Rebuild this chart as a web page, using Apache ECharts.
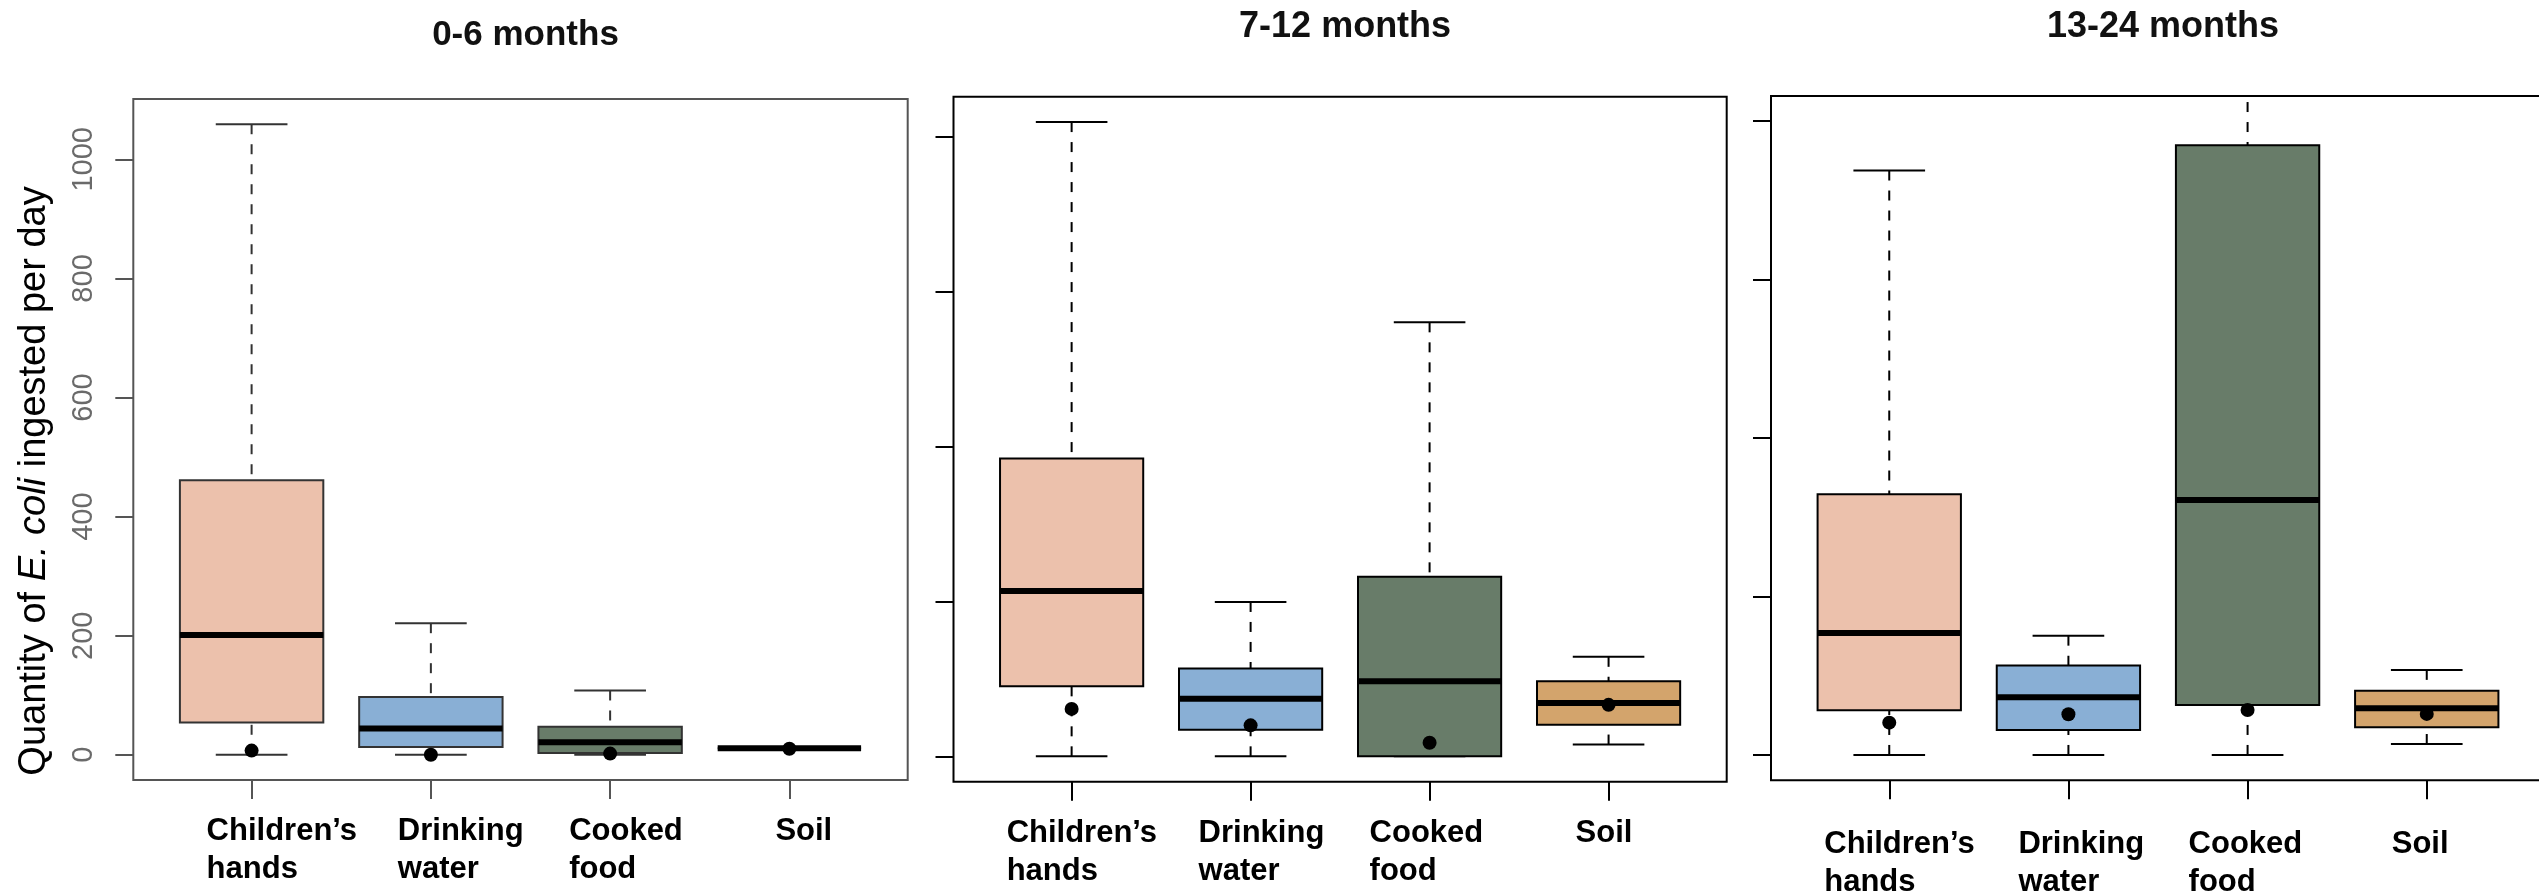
<!DOCTYPE html>
<html>
<head>
<meta charset="utf-8">
<script src="https://cdn.jsdelivr.net/npm/echarts@6/dist/echarts.min.js"></script>
<style>
  html, body { margin: 0; padding: 0; background: #ffffff; }
  .panel { position: absolute; left: 0; top: 0; width: 2539px; height: 895px; }
  #p1 { filter: blur(0.6px); }
</style>
</head>
<body>
<div id="p1" class="panel"></div>
<div id="p2" class="panel"></div>
<div id="p3" class="panel"></div>
<script>
// Exposure sources shown on the x axis
const categories = ['Children’s\nhands', 'Drinking\nwater', 'Cooked\nfood', 'Soil'];
const boxColors = ['#ECC1AC', '#89AFD5', '#687C69', '#D3A46C'];
const panelTitles = ['0-6 months', '7-12 months', '13-24 months'];

// Box statistics per source: [lower whisker, Q1, median, Q3, upper whisker]
const stats0to6 = [[0, 54, 201, 461, 1059], [0, 13, 44, 97, 221], [0, 3, 21, 47, 108], [11, 11, 11, 11, 11]];
const means0to6 = [7, 0, 2, 10];
const stats7to12 = [[0, 226, 533, 961, 2046], [0, 86, 186, 283, 498], [0, 0, 242, 579, 1400], [38, 102, 172, 242, 321]];
const means7to12 = [153, 100, 44, 166];
const stats13to24 = [[0, 282, 770, 1646, 3689], [0, 158, 364, 564, 753], [0, 316, 1610, 3848, 4500], [69, 175, 295, 406, 537]];
const means13to24 = [204, 257, 284, 259];

// Y tick values; the 13-24 month panel uses a fixed y range
const ticks0to6 = [0, 200, 400, 600, 800, 1000];
const ticks7to12 = [0, 500, 1000, 1500, 2000];
const ticks13to24 = [0, 1000, 2000, 3000, 4000];
const ylim13to24 = [0, 4000];

const FONT = "'Liberation Sans', Arial, Helvetica, sans-serif";

// R-style axis range: data (or given) limits widened by 4% on each side
function rRange(lo, hi) {
  const d = (hi - lo) * 0.04;
  return [lo - d, hi + d];
}

function renderBox(lineColor) {
  return function (params, api) {
    const x = api.value(0);
    const lo = api.value(1), q1 = api.value(2), med = api.value(3);
    const q3 = api.value(4), hi = api.value(5), mean = api.value(6);
    const c = api.coord([x, med]);
    const half = api.coord([x + 0.4, med])[0] - c[0];
    const capHalf = half / 2;
    const yLo = api.coord([x, lo])[1];
    const yQ1 = api.coord([x, q1])[1];
    const yQ3 = api.coord([x, q3])[1];
    const yHi = api.coord([x, hi])[1];
    const yMean = api.coord([x, mean])[1];
    const cx = c[0];
    const dash = { stroke: lineColor, lineWidth: 2, lineDash: [10, 10], fill: null };
    const solid = { stroke: lineColor, lineWidth: 2, fill: null };
    return {
      type: 'group',
      children: [
        { type: 'line', shape: { x1: cx, y1: yHi, x2: cx, y2: yQ3 }, style: dash },
        { type: 'line', shape: { x1: cx, y1: yLo, x2: cx, y2: yQ1 }, style: dash },
        { type: 'line', shape: { x1: cx - capHalf, y1: yHi, x2: cx + capHalf, y2: yHi }, style: solid },
        { type: 'line', shape: { x1: cx - capHalf, y1: yLo, x2: cx + capHalf, y2: yLo }, style: solid },
        { type: 'rect', shape: { x: cx - half, y: yQ3, width: 2 * half, height: yQ1 - yQ3 },
          style: { fill: boxColors[params.dataIndex], stroke: lineColor, lineWidth: 2 } },
        { type: 'line', shape: { x1: cx - half, y1: c[1], x2: cx + half, y2: c[1] },
          style: { stroke: '#000', lineWidth: 6, fill: null } },
        { type: 'circle', shape: { cx: cx, cy: yMean, r: 7 }, style: { fill: '#000' } }
      ]
    };
  };
}

function buildPanel(el, cfg) {
  const rows = cfg.stats.map((s, i) => [i + 1].concat(s, [cfg.means[i]]));
  const lo = cfg.ylim ? cfg.ylim[0] : Math.min(...cfg.stats.map(s => s[0]));
  const hi = cfg.ylim ? cfg.ylim[1] : Math.max(...cfg.stats.map(s => s[4]));
  const yr = rRange(lo, hi);
  const xr = rRange(0.5, categories.length + 0.5);
  const positions = categories.map((c, i) => i + 1);
  const rich = {};
  categories.forEach((c, i) => {
    rich['c' + i] = {
      fontFamily: FONT, fontSize: 31, fontWeight: 'bold', color: '#000',
      lineHeight: 38, padding: [0, 0, 0, cfg.labelShift[i]]
    };
  });
  const hiddenLine = { show: true, onZero: false, lineStyle: { color: 'rgba(0,0,0,0)', width: 1 } };
  const chart = echarts.init(el, null, { renderer: 'canvas' });
  const opt = {
    animation: false,
    backgroundColor: 'transparent',
    title: {
      text: cfg.title,
      left: cfg.left + cfg.width / 2,
      textAlign: 'center',
      top: cfg.titleTop,
      textStyle: { fontFamily: FONT, fontSize: cfg.titleSize, fontWeight: 'bold', color: '#111' }
    },
    grid: {
      left: cfg.left, top: cfg.top, width: cfg.width, height: cfg.height,
      show: true, borderColor: cfg.frameColor, borderWidth: 2, backgroundColor: 'transparent',
      containLabel: false, outerBoundsMode: 'none'
    },
    xAxis: {
      type: 'value', position: 'bottom', min: xr[0], max: xr[1],
      axisLine: hiddenLine, splitLine: { show: false },
      axisTick: { show: true, inside: false, length: 19, customValues: positions, lineStyle: { color: cfg.tickColor, width: 2 } },
      axisLabel: {
        show: true, customValues: positions, align: 'left', verticalAlign: 'top', margin: cfg.labelMargin,
        formatter: function (v) { const i = Math.round(v) - 1; return '{c' + i + '|' + categories[i] + '}'; },
        rich: rich
      }
    },
    yAxis: {
      type: 'value', position: 'left', min: yr[0], max: yr[1],
      axisLine: hiddenLine, splitLine: { show: false },
      axisTick: { show: true, inside: false, length: 18, customValues: cfg.ticks, lineStyle: { color: cfg.tickColor, width: 2 } },
      axisLabel: {
        show: cfg.showTickLabels, customValues: cfg.ticks, rotate: 90, margin: 35,
        fontFamily: FONT, fontSize: 29, color: '#6a6a6a',
        formatter: function (v) { return String(Math.round(v)); }
      },
      name: cfg.yName || '',
      nameLocation: 'middle',
      nameGap: 80,
      nameRotate: 90,
      nameTextStyle: {
        fontFamily: FONT, fontSize: 38, color: '#000', padding: [0, 83, 0, 0],
        rich: {
          n: { fontFamily: FONT, fontSize: 38, color: '#000' },
          i: { fontFamily: FONT, fontSize: 38, color: '#000', fontStyle: 'italic' }
        }
      }
    },
    series: [{
      type: 'custom',
      clip: true,
      renderItem: renderBox(cfg.lineColor),
      encode: { x: 0, y: [1, 2, 3, 4, 5] },
      data: rows
    }]
  };
  chart.setOption(opt);
  return chart;
}

buildPanel(document.getElementById('p1'), {
  title: panelTitles[0], titleTop: 13, titleSize: 35,
  left: 133.3, top: 99, width: 774.4, height: 681,
  stats: stats0to6, means: means0to6, ticks: ticks0to6, ylim: null,
  showTickLabels: true, labelMargin: 32, labelShift: [-45, -33, -41, -14],
  frameColor: '#555', tickColor: '#555', lineColor: '#333',
  yName: '{n|Quantity of }{i|E. coli}{n| ingested per day}'
});
buildPanel(document.getElementById('p2'), {
  title: panelTitles[1], titleTop: 4.5, titleSize: 36,
  left: 953.5, top: 96.7, width: 773.2, height: 685,
  stats: stats7to12, means: means7to12, ticks: ticks7to12, ylim: null,
  showTickLabels: false, labelMargin: 33, labelShift: [-65, -52, -60, -33],
  frameColor: '#000', tickColor: '#000', lineColor: '#000'
});
buildPanel(document.getElementById('p3'), {
  title: panelTitles[2], titleTop: 4.5, titleSize: 36,
  left: 1771, top: 95.9, width: 774, height: 684.4,
  stats: stats13to24, means: means13to24, ticks: ticks13to24, ylim: ylim13to24,
  showTickLabels: false, labelMargin: 45, labelShift: [-65, -50, -59, -35],
  frameColor: '#000', tickColor: '#000', lineColor: '#000'
});
</script>
</body>
</html>
